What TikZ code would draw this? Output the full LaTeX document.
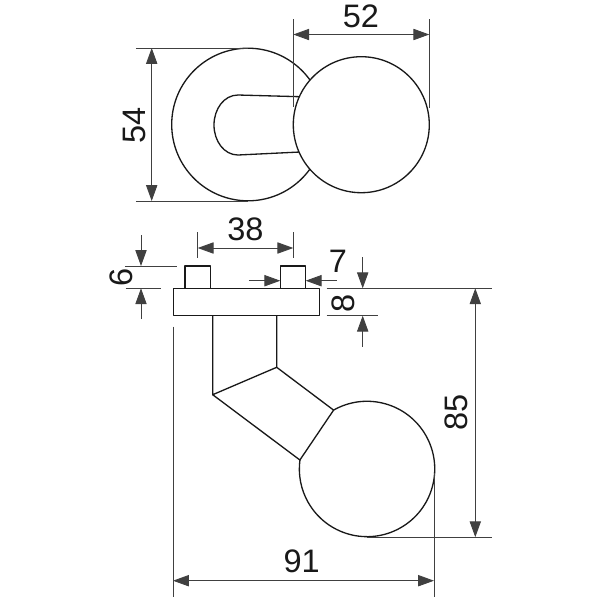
\documentclass[tikz,border=0pt]{standalone}
\usepackage{fontspec}
\setmainfont{Liberation Sans}
\usetikzlibrary{arrows.meta}

\begin{document}
\begin{tikzpicture}[
    x=0.02cm, y=-0.02cm,
    >={Triangle[length=9pt,width=6.4pt]},
    % Contorno de la pieza
    Part/.style={draw=black!90, line width=0.75pt, line join=round},
    % Lineas de cota y de referencia
    DimLine/.style={draw=black!75, line width=0.5pt},
    DimText/.style={font=\fontsize{18.5}{20}\selectfont, text=black!90, inner sep=0pt}
]
    \useasboundingbox (0,0) rectangle (600,600);

    % --- 1. VISTA FRONTAL ---
    \coordinate (Rose) at (248,124.5);
    \coordinate (Knob) at (361.3,124.7);
    \draw[Part] (Rose) circle (76.3);
    \draw[Part] (300,96.7) -- (238,95) .. controls (224,95) and (214,109) .. (214,125)
        .. controls (214,141) and (224,155) .. (238,155) -- (300,152);
    \draw[Part, fill=white] (Knob) circle (68);

    % Cotas 54 y 52
    \draw[DimLine] (136,48) -- (248,48);
    \draw[DimLine] (136,201) -- (248,201);
    \draw[DimLine, <->] (151.7,48) -- (151.7,201);
    \node[DimText, rotate=90] (Dim54) at (134,125) {54};
    \draw[DimLine] (293.3,19) -- (293.3,107);
    \draw[DimLine] (429.3,19) -- (429.3,108);
    \draw[DimLine, <->] (293.3,34.5) -- (429.3,34.5);
    \node[DimText] (Dim52) at (361,16) {52};

    % --- 2. VISTA LATERAL ---
    \draw[Part] (173.3,288.3) rectangle (319.3,315.7);
    \foreach \x in {185,280.3} {
        \draw[Part] (\x,288.3) -- (\x,266) -- ++(25.2,0) -- ++(0,22.3);
    }
    \coordinate (StemA) at (212.7,394.7);
    \coordinate (StemB) at (276.7,367.3);
    \coordinate (NeckA) at (299.9,460);
    \coordinate (NeckB) at (333.6,410.1);
    \draw[Part] (212.7,315.7) -- (StemA) -- (StemB) -- (276.7,315.7);
    \draw[Part] (StemA) -- (NeckA) -- (NeckB) -- (StemB);
    % Bola, sin el tramo tapado por el cuello
    \draw[Part] (NeckB) arc[start angle=-119.6, end angle=187.7, radius=67.7];

    % Cotas 38, 6, 7 y 8
    \draw[DimLine] (197.7,232) -- (197.7,258);
    \draw[DimLine] (293.3,232) -- (293.3,258);
    \draw[DimLine, <->] (197.7,248) -- (293.3,248);
    \node[DimText] (Dim38) at (245.5,229) {38};

    \draw[DimLine] (125,266) -- (177,266);
    \draw[DimLine] (125.7,288.3) -- (161,288.3);
    \draw[DimLine, ->] (141,235) -- (141,266);
    \draw[DimLine, ->] (141,319) -- (141,288.3);
    \node[DimText, rotate=90] (Dim6) at (121.7,277.5) {6};

    \draw[DimLine, ->] (249,280.7) -- (280.3,280.7);
    \draw[DimLine, ->] (337,280.7) -- (305.7,280.7);
    \node[DimText] (Dim7) at (338,261.5) {7};

    \draw[DimLine] (326.7,315.7) -- (378,315.7);
    \draw[DimLine, ->] (362.7,257) -- (362.7,288.3);
    \draw[DimLine, ->] (362.7,346.7) -- (362.7,315.7);
    \node[DimText, rotate=90] (Dim8) at (343,303) {8};

    % Cotas 85 y 91
    \draw[DimLine] (326.7,288.3) -- (491.7,288.3);
    \draw[DimLine] (367,537.2) -- (491.7,537.2);
    \draw[DimLine, <->] (475.3,288.3) -- (475.3,537.2);
    \node[DimText, rotate=90] (Dim85) at (456,412.7) {85};

    \draw[DimLine] (173,326.7) -- (173,596.7);
    \draw[DimLine] (434,473) -- (434,596.7);
    \draw[DimLine, <->] (173,580.7) -- (434,580.7);
    \node[DimText] (Dim91) at (301.7,561.5) {91};
\end{tikzpicture}
\end{document}
